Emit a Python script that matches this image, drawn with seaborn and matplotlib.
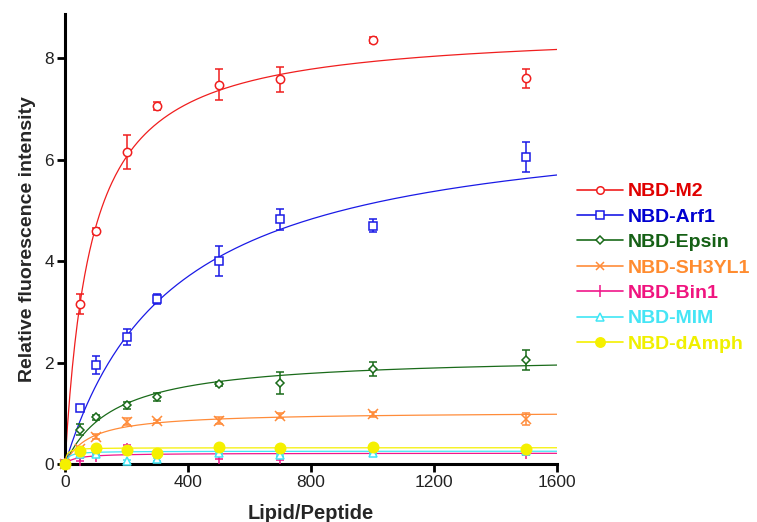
import numpy as np
import pandas as pd
import seaborn as sns
import matplotlib
matplotlib.use("Agg")
import matplotlib.pyplot as plt
from matplotlib.lines import Line2D

# ---- data ----
lipid_peptide = [0, 50, 100, 200, 300, 500, 700, 1000, 1500]

names = ["NBD-M2", "NBD-Arf1", "NBD-Epsin", "NBD-SH3YL1", "NBD-Bin1", "NBD-MIM", "NBD-dAmph"]

m2 = [0, 3.15, 4.6, 6.15, 7.05, 7.48, 7.58, 8.35, 7.6]
m2_err = [0, 0.2, 0.06, 0.33, 0.08, 0.3, 0.25, 0.06, 0.18]
arf1 = [0, 1.1, 1.95, 2.5, 3.25, 4.0, 4.82, 4.7, 6.05]
arf1_err = [0, 0.05, 0.18, 0.16, 0.1, 0.3, 0.2, 0.12, 0.3]
epsin = [0, 0.68, 0.92, 1.16, 1.32, 1.58, 1.6, 1.87, 2.05]
epsin_err = [0, 0.1, 0.05, 0.07, 0.08, 0.04, 0.22, 0.14, 0.2]
sh3yl1 = [0, 0.3, 0.54, 0.83, 0.84, 0.85, 0.95, 0.98, 0.88]
sh3yl1_err = [0, 0.04, 0.05, 0.07, 0.03, 0.07, 0.05, 0.05, 0.12]
bin1 = [0, 0.08, 0.16, 0.29, 0.2, 0.12, 0.11, 0.25, 0.21]
bin1_err = [0, 0.03, 0.03, 0.08, 0.03, 0.03, 0.03, 0.03, 0.03]
mim = [0, 0.2, 0.2, 0.05, 0.09, 0.21, 0.18, 0.22, 0.26]
mim_err = [0, 0.02, 0.02, 0.03, 0.03, 0.02, 0.02, 0.02, 0.04]
damph = [0, 0.26, 0.31, 0.28, 0.22, 0.34, 0.31, 0.33, 0.3]
damph_err = [0, 0.02, 0.02, 0.02, 0.02, 0.02, 0.02, 0.02, 0.02]

# hyperbolic binding fit parameters (Bmax, Kd)
fit_bmax = [8.6, 6.95, 2.145, 1.03, 0.215, 0.253, 0.321]
fit_kd = [84, 352, 160, 81, 35, 10, 5]

x_ticks = [0, 400, 800, 1200, 1600]
y_ticks = [0, 2, 4, 6, 8]

# ---- styles ----
colors = ["#f01e1e", "#1a1ae6", "#1a6b1a", "#ff8c3a", "#f0168a", "#40e6f5", "#f5f000"]
text_colors = ["#e00000", "#0000d0", "#156015", "#ff8c30", "#f0147f", "#45e5f5", "#f0f000"]
markers = ["o", "s", "D", "x", "|", "^", "o"]
msizes = [6, 6, 4.5, 7, 9, 6, 7.5]
filled = [False, False, False, True, True, False, True]

values = [m2, arf1, epsin, sh3yl1, bin1, mim, damph]
errors = [m2_err, arf1_err, epsin_err, sh3yl1_err, bin1_err, mim_err, damph_err]

rows = []
for n, v, e in zip(names, values, errors):
    for xv, yv, ev in zip(lipid_peptide, v, e):
        rows.append({"series": n, "x": xv, "y": yv, "err": ev})
df = pd.DataFrame(rows)

xfit = np.linspace(0, 1600, 400)
fit_rows = []
for n, b, k in zip(names, fit_bmax, fit_kd):
    for xv in xfit:
        fit_rows.append({"series": n, "x": xv, "y": b * xv / (k + xv)})
fit_df = pd.DataFrame(fit_rows)

sns.set_theme(style="ticks")
plt.rcParams["font.family"] = ["Liberation Sans", "DejaVu Sans"]

fig = plt.figure(figsize=(7.57, 5.22), dpi=100)
ax = fig.add_axes([65 / 757, 1 - 464 / 522, (557 - 65) / 757, (464 - 14) / 522])

for i, n in enumerate(names):
    sub_fit = fit_df[fit_df.series == n]
    sns.lineplot(data=sub_fit, x="x", y="y", color=colors[i], lw=0.9, ax=ax,
                 legend=False, zorder=2 + i * 0.1)
for i, n in enumerate(names):
    sub = df[df.series == n]
    mfc = colors[i] if filled[i] else "white"
    if markers[i] in ("x", "|"):
        mfc = colors[i]
    ax.errorbar(sub["x"], sub["y"], yerr=sub["err"], fmt=markers[i], color=colors[i],
                mfc=mfc, mec=colors[i], ms=msizes[i], mew=1.1, elinewidth=1.1,
                capsize=3, capthick=1.1, clip_on=False, zorder=3 + i * 0.1)

ax.set_xlim(0, 1600)
ax.set_ylim(0, 8.87)
ax.set_xticks(x_ticks)
ax.set_yticks(y_ticks)
ax.set_xticklabels([str(t) for t in x_ticks])
ax.set_yticklabels([str(t) for t in y_ticks])
for s in ["top", "right"]:
    ax.spines[s].set_visible(False)
for s in ["left", "bottom"]:
    ax.spines[s].set_linewidth(2.2)
    ax.spines[s].set_color("black")
ax.tick_params(axis="both", direction="out", length=6, width=2, labelsize=12.5,
               colors="black", pad=2)
for lab in ax.get_xticklabels() + ax.get_yticklabels():
    lab.set_color("#222222")
ax.set_xlabel("Lipid/Peptide", fontsize=14.5, fontweight="bold", labelpad=10)
ax.set_ylabel("Relative fluorescence intensity", fontsize=14, fontweight="bold", labelpad=6)
ax.set_facecolor("white")

handles = []
for i, n in enumerate(names):
    mfc = colors[i] if filled[i] else "white"
    if markers[i] in ("x", "|"):
        mfc = colors[i]
    handles.append(Line2D([0], [0], color=colors[i], lw=1.2, marker=markers[i],
                          ms=msizes[i] * 0.9, mfc=mfc, mec=colors[i], mew=1.1))
leg = fig.legend(handles=handles, labels=names, loc="upper left",
                 bbox_to_anchor=(569 / 757, 1 - 175 / 522), frameon=False,
                 prop={"weight": "bold", "size": 14}, handlelength=2.4,
                 handletextpad=0.2, labelspacing=0.4, borderaxespad=0)
for t, c in zip(leg.get_texts(), text_colors):
    t.set_color(c)

fig.savefig("out.png", dpi=100, facecolor="white")
